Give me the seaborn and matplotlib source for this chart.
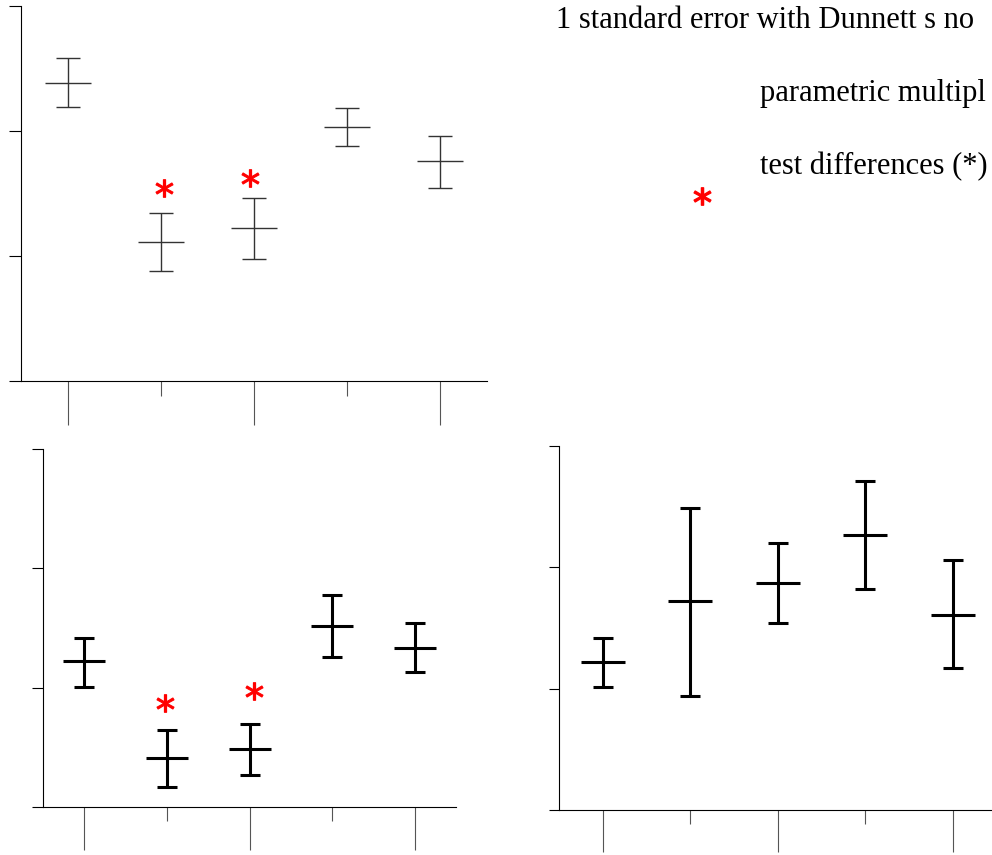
import matplotlib
matplotlib.use("Agg")
import matplotlib.pyplot as plt
from matplotlib.lines import Line2D
import seaborn as sns
import pandas as pd

sns.set_style("ticks")
plt.rcParams['font.family'] = ['Liberation Serif', 'DejaVu Serif']

# data (y axis 0..3, five groups per panel)
groups = ['g1', 'g2', 'g3', 'g4', 'g5']

a_mean = [2.38, 1.11, 1.22, 2.03, 1.76]
a_low = [2.19, 0.88, 0.98, 1.88, 1.54]
a_high = [2.58, 1.34, 1.46, 2.18, 1.96]
a_star_x = [1.03, 1.96]
a_star_y = [1.54, 1.62]

b_mean = [1.22, 0.41, 0.49, 1.52, 1.33]
b_low = [1.01, 0.17, 0.27, 1.26, 1.13]
b_high = [1.42, 0.65, 0.70, 1.78, 1.54]
b_star_x = [0.98, 2.05]
b_star_y = [0.87, 0.97]

c_mean = [1.22, 1.72, 1.87, 2.27, 1.61]
c_low = [1.01, 0.94, 1.54, 1.82, 1.17]
c_high = [1.42, 2.49, 2.20, 2.71, 2.06]

y_ticks = [0, 1, 2, 3]
legend_lines = ["1 standard error with Dunnett s no",
                "parametric multipl",
                "test differences (*)"]

W, H = 992, 855
fig = plt.figure(figsize=(W / 100, H / 100), dpi=100)


def px_axes(left, top, right, bottom):
    return fig.add_axes([left / W, 1 - bottom / H, (right - left) / W, (bottom - top) / H])


def panel(ax, mean, low, high, lw, mean_w, cap_w, ytick_len, long_len, short_len,
          color, star_x=None, star_y=None):
    df = pd.DataFrame({'group': groups, 'mean': mean})
    sns.pointplot(data=df, x='group', y='mean', errorbar=None, linestyle='none',
                  marker='_', markersize=mean_w, markeredgewidth=lw,
                  color=color, ax=ax)
    x = list(range(len(groups)))
    yerr = [[m - l for m, l in zip(mean, low)], [h - m for m, h in zip(mean, high)]]
    ax.errorbar(x, mean, yerr=yerr, fmt='none', ecolor=color, elinewidth=lw,
                capsize=cap_w / 2, capthick=lw)
    if star_x is not None:
        sdf = pd.DataFrame({'x': star_x, 'y': star_y})
        sns.scatterplot(data=sdf, x='x', y='y', marker='$*$', s=160, color='#ff0000',
                        edgecolor='#ff0000', linewidth=0.8, ax=ax)
    ax.set_xlim(-0.5, 4.5)
    ax.set_ylim(0, 3)
    ax.set_yticks(y_ticks)
    ax.set_yticklabels([])
    ax.set_xticks([0, 2, 4])
    ax.set_xticks([1, 3], minor=True)
    ax.set_xticklabels([])
    ax.set_xlabel('')
    ax.set_ylabel('')
    ax.tick_params(axis='y', which='major', direction='out', length=ytick_len, width=0.8, color='black')
    ax.tick_params(axis='x', which='major', direction='out', length=long_len, width=0.8, color='#555555')
    ax.tick_params(axis='x', which='minor', direction='out', length=short_len, width=0.8, color='#555555')
    for s in ['top', 'right']:
        ax.spines[s].set_visible(False)
    for s in ['left', 'bottom']:
        ax.spines[s].set_linewidth(0.8)
        ax.spines[s].set_color('black')
    ax.patch.set_alpha(0)


ax1 = px_axes(21, 6, 487, 381)
panel(ax1, a_mean, a_low, a_high, lw=1.0, mean_w=33, cap_w=17, ytick_len=8.6,
      long_len=31.5, short_len=10.8, color='#333333', star_x=a_star_x, star_y=a_star_y)

ax2 = px_axes(43, 448.7, 456, 807.3)
panel(ax2, b_mean, b_low, b_high, lw=2.2, mean_w=30, cap_w=14.5, ytick_len=8,
      long_len=31, short_len=10, color='black', star_x=b_star_x, star_y=b_star_y)

ax3 = px_axes(559.3, 446, 996.3, 810)
panel(ax3, c_mean, c_low, c_high, lw=2.2, mean_w=32, cap_w=15, ytick_len=7.2,
      long_len=30, short_len=10, color='black')

# explanatory text in the top right corner
fig.text(556 / W, 1 - 28 / H, legend_lines[0], fontsize=22, color='black', ha='left', va='baseline')
fig.text(760 / W, 1 - 101 / H, legend_lines[1], fontsize=22, color='black', ha='left', va='baseline')
fig.text(760 / W, 1 - 174 / H, legend_lines[2], fontsize=22, color='black', ha='left', va='baseline')
fig.add_artist(Line2D([702 / W], [1 - 196 / H], marker='$*$', markersize=12.5,
                      color='#ff0000', linestyle='none', transform=fig.transFigure))

fig.savefig('out.png', dpi=100)
